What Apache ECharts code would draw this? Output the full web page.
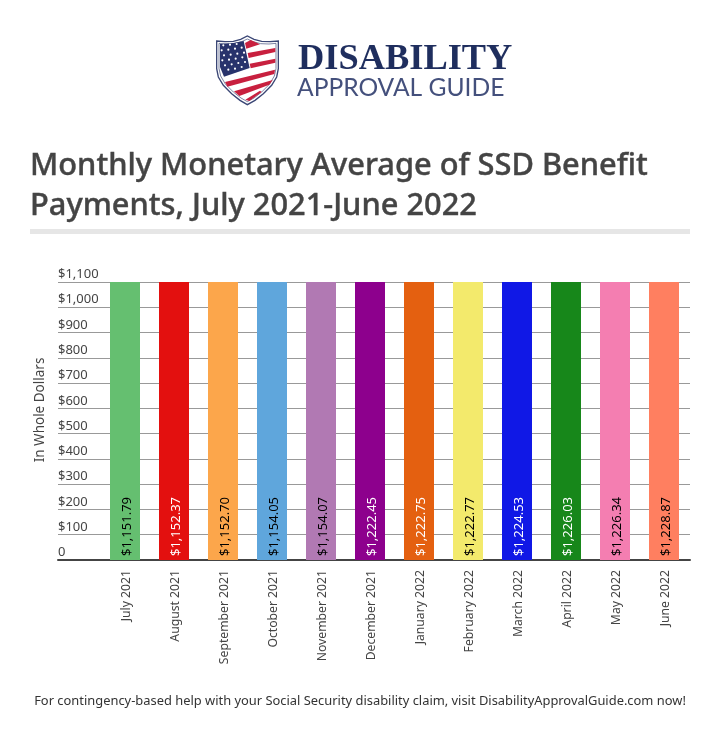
<!DOCTYPE html>
<html><head><meta charset="utf-8">
<style>html,body{margin:0;padding:0;background:#fff}#c{width:720px;height:738px}</style>
<script src="https://cdn.jsdelivr.net/npm/echarts@6/dist/echarts.min.js"></script>
</head><body><div id="c"></div>
<script>
const months = ['July 2021','August 2021','September 2021','October 2021','November 2021','December 2021','January 2022','February 2022','March 2022','April 2022','May 2022','June 2022'];
const payments = [1151.79,1152.37,1152.70,1154.05,1154.07,1222.45,1222.75,1222.77,1224.53,1226.03,1226.34,1228.87];
const barColors = ['#65bf70','#e3100f','#fca64b','#5fa6dc','#b179b3','#8d008d','#e46010','#f3ea6c','#1018e6','#17871a','#f47eb1','#ff7f60'];
const labelColors = ['#000','#fff','#000','#000','#000','#fff','#fff','#000','#fff','#fff','#000','#000'];
const titleLines = 'Monthly Monetary Average of SSD Benefit\nPayments, July 2021-June 2022';
const footer = 'For contingency-based help with your Social Security disability claim, visit DisabilityApprovalGuide.com now!';
const FONT = '"Noto Sans"';

const stars = [[40,40],[60,38],[80,36],[35,55],[55,53],[75,50],[95,47],[42,70],[62,68],[82,65],[102,62],[37,85],[57,83],[77,80],[97,76],[45,100],[65,97],[85,93],[105,90],[55,113],[75,110],[95,105]];
const shieldOuter = [[20,27],[45,29],[70,28],[92,22],[112,12],[132,22],[155,28],[180,29],[205,27],[205,110],[200,135],[185,160],[160,185],[135,205],[112,218],[90,205],[65,185],[40,160],[25,135],[20,110]];
const shieldInner = [[27,34],[48,36],[72,35],[95,29],[112,21],[129,29],[152,35],[177,36],[198,34],[198,110],[193,132],[179,156],[155,180],[132,198],[112,209],[93,198],[70,180],[46,156],[32,132],[27,110]];
const logo = {
  type:'group', x:210, y:32, scaleX:1/3, scaleY:1/3, silent:true,
  children:[
    {type:'polygon',shape:{points:shieldOuter},style:{fill:'#fff',stroke:'#3a4675',lineWidth:4}},
    {type:'polygon',shape:{points:shieldInner},style:{fill:'#fff',stroke:'#3a4675',lineWidth:2},z:1},
    {type:'polygon',shape:{points:[[105,33],[122,24],[150,37],[109,50]]},style:{fill:'#c8203f'},z:2},
    {type:'polygon',shape:{points:[[113,63],[196,48],[196,60],[116,78]]},style:{fill:'#c8203f'},z:2},
    {type:'polygon',shape:{points:[[119,95],[196,80],[196,92],[122,109]]},style:{fill:'#c8203f'},z:2},
    {type:'polygon',shape:{points:[[45,150],[195,113],[193,126],[52,164]]},style:{fill:'#c8203f'},z:2},
    {type:'polygon',shape:{points:[[72,178],[188,144],[178,158],[88,192]]},style:{fill:'#c8203f'},z:2},
    {type:'polygon',shape:{points:[[106,203],[150,176],[155,180],[118,207]]},style:{fill:'#c8203f'},z:2},
    {type:'polygon',shape:{points:[[30,36],[70,33],[101,27],[119,108],[42,134],[30,105]]},style:{fill:'#28336c'},z:3},
    ...stars.map(s=>({type:'circle',shape:{cx:s[0],cy:s[1],r:3.2},style:{fill:'#fff'},z:4}))
  ]
};

const chart = echarts.init(document.getElementById('c'), null, {renderer:'canvas'});
chart.setOption({
  animation:false,
  backgroundColor:'#fff',
  textStyle:{fontFamily:FONT},
  title:[
    {text:titleLines,left:30,top:146,padding:0,textStyle:{fontFamily:FONT,fontSize:30.8,fontWeight:500,color:'#444',lineHeight:40,textBorderColor:'#444',textBorderWidth:0.4}},
    {text:footer,left:360,top:695,padding:0,textAlign:'center',textStyle:{fontFamily:FONT,fontSize:12.9,fontWeight:400,color:'#333'}}
  ],
  grid:[
    {left:58,right:30,top:282,height:278,containLabel:false},
    {left:100.5,width:588,top:282,height:278,containLabel:false},
    {left:102,width:588,top:282,height:278,containLabel:false}
  ],
  xAxis:[
    {gridIndex:0,type:'value',min:0,max:1,axisLabel:{show:false},axisTick:{show:false},splitLine:{show:false},
     axisLine:{show:true,onZero:false,lineStyle:{color:'#444',width:2}}},
    {gridIndex:1,type:'category',data:months,axisLine:{show:false},axisTick:{show:false},axisLabel:{show:false}},
    {gridIndex:2,type:'category',data:months,axisLine:{show:false},axisTick:{show:false},
     axisLabel:{rotate:90,interval:0,margin:10,fontFamily:FONT,fontSize:12.2,color:'#444'}}
  ],
  yAxis:[
    {gridIndex:0,type:'value',min:0,max:1100,interval:100,
     name:'In Whole Dollars',nameLocation:'middle',nameGap:16,nameTextStyle:{fontFamily:FONT,fontSize:13.5,color:'#444',verticalAlign:'top',padding:[0,0,0,22]},
     axisLine:{show:false},axisTick:{show:false},
     axisLabel:{inside:true,margin:0,align:'left',verticalAlign:'bottom',padding:[0,0,1,0],fontFamily:FONT,fontSize:13,color:'#444',
       formatter:v=>v===0?'0':'$'+v.toLocaleString('en-US')},
     splitLine:{show:true,lineStyle:{color:'#999',width:1}}},
    {gridIndex:1,type:'value',min:0,max:1100,interval:100,axisLine:{show:false},axisTick:{show:false},axisLabel:{show:false},splitLine:{show:false}},
    {gridIndex:2,type:'value',min:0,max:1100,interval:100,axisLine:{show:false},axisTick:{show:false},axisLabel:{show:false},splitLine:{show:false}}
  ],
  series:[{
    type:'bar',xAxisIndex:1,yAxisIndex:1,barWidth:30,z:3,
    data:payments.map((v,i)=>({value:v,itemStyle:{color:barColors[i]},
      label:{color:labelColors[i]}})),
    label:{show:true,position:'insideBottom',rotate:90,align:'left',verticalAlign:'middle',distance:4,offset:[0,2],fontFamily:FONT,fontSize:13,
      formatter:p=>'$'+p.value.toLocaleString('en-US',{minimumFractionDigits:2,maximumFractionDigits:2})}
  }],
  graphic:[
    logo,
    {type:'text',silent:true,style:{x:298,y:42,text:'DISABILITY',fontFamily:'"Liberation Serif"',fontWeight:700,fontSize:36.4,fill:'#1f2e5e'}},
    {type:'text',silent:true,style:{x:297,y:76,text:'APPROVAL GUIDE',fontFamily:'Lato',fontWeight:400,fontSize:24.6,fill:'#44507c'}},
    {type:'rect',silent:true,shape:{x:30,y:229,width:660,height:5},style:{fill:'#e6e6e6'}}
  ]
});
</script></body></html>
